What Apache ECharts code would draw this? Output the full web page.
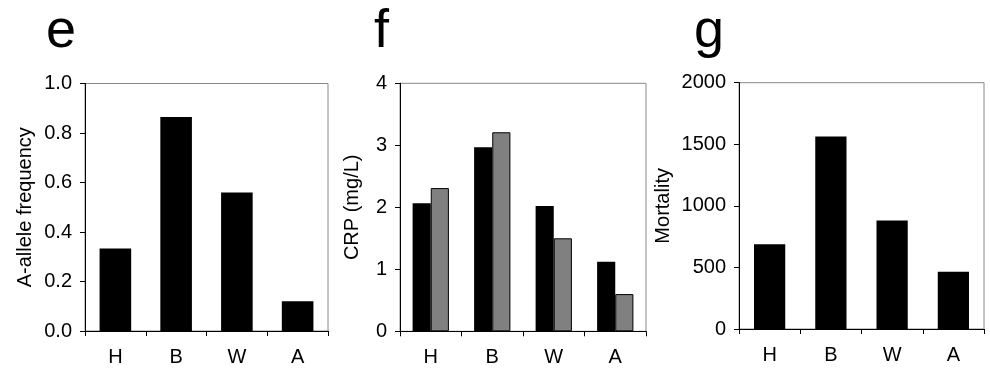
<!DOCTYPE html>
<html>
<head>
<meta charset="utf-8">
<script src="https://cdn.jsdelivr.net/npm/echarts@6/dist/echarts.min.js"></script>
<style>
html,body{margin:0;padding:0;background:#fff;}
#c{width:990px;height:370px;}
</style>
</head>
<body>
<div id="c"></div>
<script>
const categories = ['H', 'B', 'W', 'A'];
const alleleFreq = [0.333, 0.865, 0.56, 0.12];
const crpBlack = [2.065, 2.97, 2.02, 1.12];
const crpGray = [2.31, 3.21, 1.5, 0.6];
const mortality = [689, 1564, 881, 464];
const panelLetters = ['e', 'f', 'g'];
const yNames = ['A-allele frequency', 'CRP (mg/L)', 'Mortality'];

const FONT = '"Liberation Sans", Arial, sans-serif';
const grids = [
  {left: 85, top: 83.5, width: 243, height: 247.5},
  {left: 400, top: 83.3, width: 246, height: 248},
  {left: 739, top: 82.7, width: 245, height: 246.3}
];
const yCfg = [
  {min: 0, max: 1, interval: 0.2, fmt: v => v.toFixed(1), gap: 50},
  {min: 0, max: 4, interval: 1, fmt: v => String(v), gap: 38},
  {min: 0, max: 2000, interval: 500, fmt: v => String(v), gap: 66}
];

const chart = echarts.init(document.getElementById('c'));
const option = {
  animation: false,
  backgroundColor: '#fff',
  textStyle: {fontFamily: FONT},
  grid: grids.map(g => Object.assign({show: true, borderColor: '#888', borderWidth: 1, backgroundColor: 'transparent'}, g)),
  xAxis: grids.map((g, i) => ({
    type: 'category',
    gridIndex: i,
    data: categories,
    boundaryGap: true,
    axisLine: {show: true, lineStyle: {color: '#000', width: 1}},
    axisTick: {show: true, inside: false, length: 5, alignWithLabel: false, lineStyle: {color: '#000'}},
    axisLabel: {color: '#000', fontSize: 20, fontFamily: FONT, margin: 16},
    splitLine: {show: false}
  })),
  yAxis: yCfg.map((c, i) => ({
    type: 'value',
    gridIndex: i,
    min: c.min, max: c.max, interval: c.interval,
    name: yNames[i],
    nameLocation: 'middle',
    nameGap: c.gap,
    nameTextStyle: {color: '#000', fontSize: 20, fontFamily: FONT},
    axisLine: {show: true, lineStyle: {color: '#000', width: 1}},
    axisTick: {show: true, inside: false, length: 5, lineStyle: {color: '#000'}},
    axisLabel: {color: '#000', fontSize: 20, fontFamily: FONT, margin: 13, formatter: c.fmt},
    splitLine: {show: false}
  })),
  graphic: panelLetters.map((t, i) => ({
    type: 'text',
    left: [46, 374, 694][i],
    top: 5,
    style: {text: t, fontSize: 54, fontFamily: FONT, fill: '#000'}
  })),
  series: [
    {type: 'bar', xAxisIndex: 0, yAxisIndex: 0, data: alleleFreq, barWidth: '52%',
     itemStyle: {color: '#000', borderColor: '#000', borderWidth: 0}},
    {type: 'bar', xAxisIndex: 1, yAxisIndex: 1, data: crpBlack, barWidth: '29.5%', barGap: '0%',
     itemStyle: {color: '#000', borderColor: '#000', borderWidth: 0}},
    {type: 'bar', xAxisIndex: 1, yAxisIndex: 1, data: crpGray, barWidth: '29.5%', barGap: '0%',
     itemStyle: {color: '#808080', borderColor: '#000', borderWidth: 1}},
    {type: 'bar', xAxisIndex: 2, yAxisIndex: 2, data: mortality, barWidth: '51%',
     itemStyle: {color: '#000', borderColor: '#000', borderWidth: 0}}
  ]
};
chart.setOption(option);
</script>
</body>
</html>
